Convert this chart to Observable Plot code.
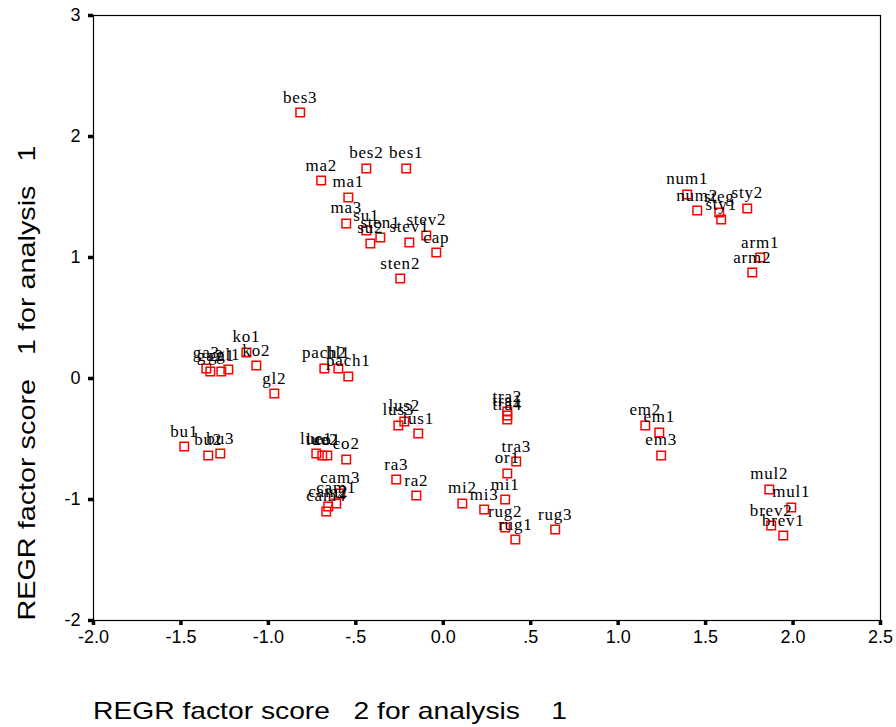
<!DOCTYPE html>
<html>
<head>
<meta charset="utf-8">
<script src="https://cdn.jsdelivr.net/npm/d3@7"></script>
<script src="https://cdn.jsdelivr.net/npm/@observablehq/plot@0.6"></script>
<style>
  html, body { margin: 0; padding: 0; background: white; }
</style>
</head>
<body>
<div id="chart"></div>
<script>
const names = ["bes3","ma2","bes2","bes1","ma1","ma3","su1","sten1","su2","stev1","stev2","cap","sten2",
  "ga3","ga2","ga1","gl1","ko1","ko2","gl2","bu1","bu2","bu3",
  "pach2","hl1","pach1","lue1","lue2","co1","co2","cam3","cam1","cam2","cam4",
  "lus3","lus2","lus1","ra3","ra2","tra2","tra1","tra4","tra3","or1","mi1","mi2","mi3","rug2","rug1","rug3",
  "num1","num2","steg","sty1","sty2","arm1","arm2","em2","em1","em3","mul2","mul1","brev2","brev1"];
const scoreX = [-0.818,-0.698,-0.440,-0.212,-0.543,-0.555,-0.440,-0.360,-0.417,-0.194,-0.097,-0.040,-0.246,
  -1.355,-1.332,-1.269,-1.229,-1.126,-1.069,-0.966,-1.481,-1.344,-1.275,
  -0.680,-0.600,-0.543,-0.726,-0.692,-0.663,-0.555,-0.589,-0.612,-0.658,-0.669,
  -0.257,-0.223,-0.143,-0.269,-0.154,0.366,0.366,0.366,0.417,0.366,0.354,0.109,0.234,0.354,0.412,0.640,
  1.395,1.452,1.578,1.589,1.738,1.812,1.767,1.155,1.235,1.246,1.864,1.990,1.875,1.944];
const scoreY = [2.198,1.636,1.736,1.736,1.496,1.281,1.223,1.165,1.116,1.124,1.182,1.041,0.826,
  0.083,0.058,0.058,0.074,0.215,0.107,-0.124,-0.562,-0.636,-0.620,
  0.083,0.083,0.017,-0.620,-0.636,-0.636,-0.669,-0.950,-1.033,-1.058,-1.099,
  -0.388,-0.355,-0.455,-0.835,-0.967,-0.273,-0.306,-0.339,-0.686,-0.785,-1.000,-1.033,-1.083,-1.231,-1.331,-1.248,
  1.521,1.388,1.372,1.314,1.405,1.000,0.876,-0.388,-0.446,-0.636,-0.917,-1.066,-1.215,-1.298];
const xTicks = [-2,-1.5,-1,-0.5,0,0.5,1,1.5,2,2.5];
const xTickLabels = ["-2.0","-1.5","-1.0","-.5","0.0",".5","1.0","1.5","2.0","2.5"];
const yTicks = [-2,-1,0,1,2,3];
const yTickLabels = ["-2","-1","0","1","2","3"];
const xTitle = "REGR factor score   2 for analysis    1";
const yTitle = "REGR factor score   1 for analysis   1";

const data = names.map((n, i) => ({name: n, x: scoreX[i], y: scoreY[i]}));

const chart = Plot.plot({
  width: 896,
  height: 727,
  marginLeft: 93,
  marginRight: 16,
  marginTop: 15,
  marginBottom: 107,
  x: {domain: [-2, 2.5]},
  y: {domain: [-2, 3]},
  style: {fontFamily: "'Liberation Sans', Arial, sans-serif", background: "white", color: "black"},
  marks: [
    Plot.frame({stroke: "black", strokeWidth: 1.2}),
    Plot.axisX({ticks: xTicks, tickFormat: d => xTickLabels[xTicks.indexOf(d)], tickSize: 5, tickPadding: 5, fontSize: 18, label: null, strokeWidth: 3.5}),
    Plot.axisY({ticks: yTicks, tickFormat: d => yTickLabels[yTicks.indexOf(d)], tickSize: 5, tickPadding: 8, fontSize: 18, label: null, strokeWidth: 3.5}),
    Plot.dot(data, {x: "x", y: "y", symbol: "square", r: 4.8, stroke: "red", strokeWidth: 1.5, fill: "none"}),
    Plot.text(data, {x: "x", y: "y", text: "name", dy: -10, lineAnchor: "bottom", fontFamily: "'Liberation Serif', 'Times New Roman', serif", fontSize: 17, fill: "black", className: "ptlabel"})
  ]
});

const svg = d3.select(chart);
svg.selectAll(".ptlabel text").style("letter-spacing", "0.8px");
svg.append("text")
  .attr("x", 93).attr("y", 719)
  .attr("text-anchor", "start")
  .attr("font-family", "'Liberation Sans', Arial, sans-serif")
  .attr("font-size", 24)
  .attr("textLength", 474)
  .attr("lengthAdjust", "spacingAndGlyphs")
  .attr("fill", "black")
  .style("white-space", "pre")
  .text(xTitle);
svg.append("text")
  .attr("transform", "translate(35,383) rotate(-90)")
  .attr("text-anchor", "middle")
  .attr("font-family", "'Liberation Sans', Arial, sans-serif")
  .attr("font-size", 24)
  .attr("textLength", 475)
  .attr("lengthAdjust", "spacingAndGlyphs")
  .attr("fill", "black")
  .style("white-space", "pre")
  .text(yTitle);

document.getElementById("chart").appendChild(chart);
</script>
</body>
</html>
